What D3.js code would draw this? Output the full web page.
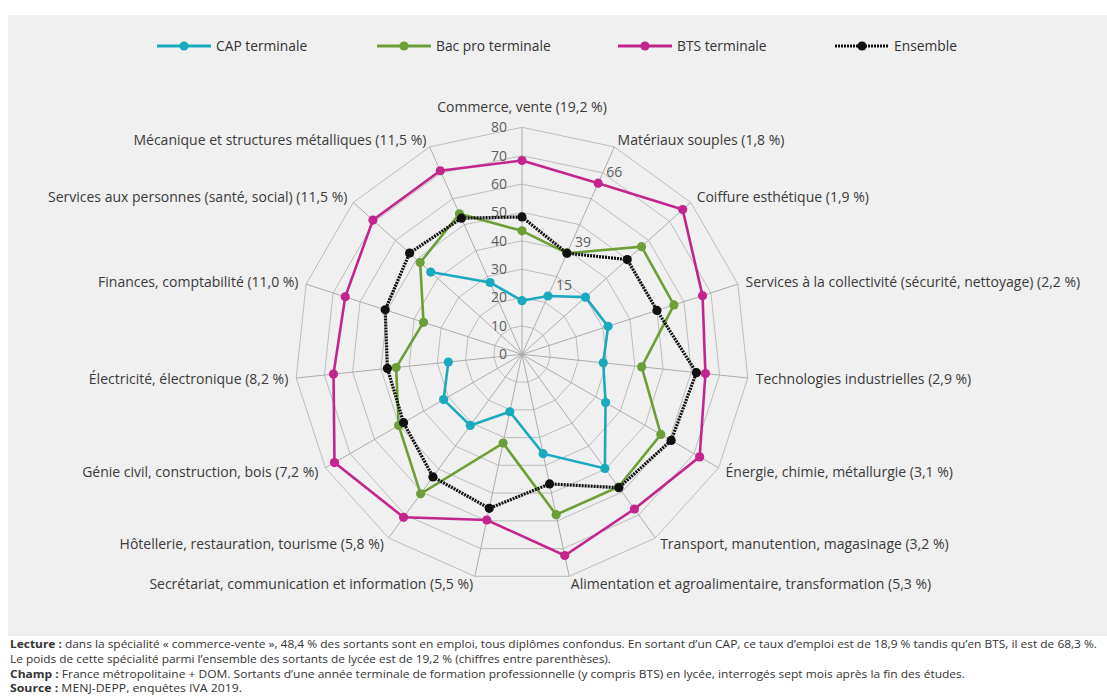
<!DOCTYPE html>
<html>
<head>
<meta charset="utf-8">
<script src="https://cdn.jsdelivr.net/npm/d3@7"></script>
<style>
  body { margin: 0; background: #fff; }
  svg { font-family: "Open Sans", "Noto Sans", sans-serif; }
</style>
</head>
<body>
<svg id="chart" width="1107" height="700"></svg>
<script>
// categories, clockwise from the top
var categories = [
  "Commerce, vente (19,2 %)",
  "Matériaux souples (1,8 %)",
  "Coiffure esthétique (1,9 %)",
  "Services à la collectivité (sécurité, nettoyage) (2,2 %)",
  "Technologies industrielles (2,9 %)",
  "Énergie, chimie, métallurgie (3,1 %)",
  "Transport, manutention, magasinage (3,2 %)",
  "Alimentation et agroalimentaire, transformation (5,3 %)",
  "Secrétariat, communication et information (5,5 %)",
  "Hôtellerie, restauration, tourisme (5,8 %)",
  "Génie civil, construction, bois (7,2 %)",
  "Électricité, électronique (8,2 %)",
  "Finances, comptabilité (11,0 %)",
  "Services aux personnes (santé, social) (11,5 %)",
  "Mécanique et structures métalliques (11,5 %)"
]

var cap      = [18.9, 22.5, 30.1, 31.9, 28.8, 34.0, 49.7, 35.8, 20.7, 31.0, 31.9, 26.1, null, 43.3, 27.7]
var bacPro   = [43.5, 39.0, 56.7, 56.3, 42.4, 56.5, 57.8, 57.8, 32.0, 60.8, 50.2, 44.6, 36.5, 48.3, 54.2]
var bts      = [68.3, 66.0, 76.2, 66.9, 65.0, 72.3, 67.4, 72.5, 59.7, 71.0, 76.3, 66.8, 65.5, 70.7, 70.8]
var ensemble = [48.4, 39.0, 49.9, 50.0, 61.8, 60.7, 58.1, 46.7, 55.5, 53.4, 48.2, 47.7, 50.7, 53.3, 52.5]

var seriesNames = ["CAP terminale", "Bac pro terminale", "BTS terminale", "Ensemble"]
var tickValues = [0, 10, 20, 30, 40, 50, 60, 70, 80]

// value labels written on the "Matériaux souples" spoke
var labelAxis = 1
var pointLabels = [["BTS terminale", "66"], ["Ensemble", "39"], ["CAP terminale", "15"]]

var notes = [
  [["Lecture : ", true], ["dans la spécialité « commerce-vente », 48,4 % des sortants sont en emploi, tous diplômes confondus. En sortant d’un CAP, ce taux d’emploi est de 18,9 % tandis qu’en BTS, il est de 68,3 %.", false]],
  [["Le poids de cette spécialité parmi l’ensemble des sortants de lycée est de 19,2 % (chiffres entre parenthèses).", false]],
  [["Champ : ", true], ["France métropolitaine + DOM. Sortants d’une année terminale de formation professionnelle (y compris BTS) en lycée, interrogés sept mois après la fin des études.", false]],
  [["Source : ", true], ["MENJ-DEPP, enquêtes IVA 2019.", false]]
]

var series = [
  { name: seriesNames[0], values: cap,      color: "#1aaabf" },
  { name: seriesNames[1], values: bacPro,   color: "#6e9e38" },
  { name: seriesNames[2], values: bts,      color: "#c3258c" },
  { name: seriesNames[3], values: ensemble, color: "#111111", dotted: true }
]

var svg = d3.select("#chart")
var width = 1107
var cx = 522, cy = 354.3
var R = 227
var n = categories.length

// grey panel
svg.append("rect")
  .attr("x", 8).attr("y", 15)
  .attr("width", width - 8).attr("height", 621)
  .attr("fill", "#f0f0f0")

var r = d3.scaleLinear().domain([0, 80]).range([0, R])
var angle = d3.scaleLinear().domain([0, n]).range([0, 2 * Math.PI])

function pt(i, v) {
  var a = angle(i)
  return [cx + r(v) * Math.sin(a), cy - r(v) * Math.cos(a)]
}

var grid = svg.append("g").attr("class", "grid")

// polygon rings
tickValues.slice(1).forEach(function (t) {
  var pts = d3.range(n).map(function (i) { return pt(i, t) })
  grid.append("polygon")
    .attr("points", pts.map(function (p) { return p.join(",") }).join(" "))
    .attr("fill", "none")
    .attr("stroke", "#bdbdbd")
    .attr("stroke-width", 1)
})

// spokes
grid.selectAll("line.spoke")
  .data(d3.range(n))
  .enter().append("line")
  .attr("class", "spoke")
  .attr("x1", cx).attr("y1", cy)
  .attr("x2", function (i) { return pt(i, 80)[0] })
  .attr("y2", function (i) { return pt(i, 80)[1] })
  .attr("stroke", "#adadad")
  .attr("stroke-width", 1)

// tick labels along the top spoke
svg.append("g").selectAll("text")
  .data(tickValues)
  .enter().append("text")
  .attr("x", cx - 15)
  .attr("y", function (d) { return cy - r(d) })
  .attr("dy", "0.35em")
  .attr("text-anchor", "end")
  .attr("font-size", 14)
  .attr("fill", "#5e5e5e")
  .text(function (d) { return d })

// category labels
svg.append("g").selectAll("text")
  .data(categories)
  .enter().append("text")
  .attr("x", function (d, i) { return cx + (R + 8) * Math.sin(angle(i)) })
  .attr("y", function (d, i) {
    var c = Math.cos(angle(i))
    return cy - (R + 8) * c - (c > 0.95 ? 12 : 0)
  })
  .attr("dy", "0.35em")
  .attr("text-anchor", function (d, i) {
    var s = Math.sin(angle(i))
    return s > 0.05 ? "start" : (s < -0.05 ? "end" : "middle")
  })
  .attr("font-size", 14)
  .attr("fill", "#3a3a3a")
  .text(function (d) { return d })

// series
var line = d3.line()
  .defined(function (d) { return d.v != null })
  .x(function (d) { return pt(d.i, d.v)[0] })
  .y(function (d) { return pt(d.i, d.v)[1] })

var plot = svg.append("g").attr("class", "series")
series.forEach(function (s) {
  var pts = s.values.map(function (v, i) { return { i: i, v: v } })
  var closed = pts.concat([{ i: n, v: s.values[0] }])
  var g = plot.append("g")
  g.append("path")
    .attr("d", line(closed))
    .attr("fill", "none")
    .attr("stroke", s.color)
    .attr("stroke-width", s.dotted ? 3.2 : 2.6)
    .attr("stroke-dasharray", s.dotted ? "2,1" : null)
  g.selectAll("circle")
    .data(pts.filter(function (d) { return d.v != null }))
    .enter().append("circle")
    .attr("cx", function (d) { return pt(d.i, d.v)[0] })
    .attr("cy", function (d) { return pt(d.i, d.v)[1] })
    .attr("r", 4.6)
    .attr("fill", s.color)
})

// value labels
svg.append("g").selectAll("text")
  .data(pointLabels)
  .enter().append("text")
  .attr("x", function (d) {
    var s = series.find(function (e) { return e.name == d[0] })
    return pt(labelAxis, s.values[labelAxis])[0] + 8
  })
  .attr("y", function (d) {
    var s = series.find(function (e) { return e.name == d[0] })
    return pt(labelAxis, s.values[labelAxis])[1] - 11
  })
  .attr("dy", "0.35em")
  .attr("font-size", 14)
  .attr("fill", "#5e5e5e")
  .text(function (d) { return d[1] })

// legend
var legendX = [157, 377, 618, 835]
var legend = svg.append("g").attr("class", "legend")
series.forEach(function (s, k) {
  var x0 = legendX[k]
  var g = legend.append("g").attr("transform", "translate(" + x0 + ",46)")
  g.append("line")
    .attr("x1", 0).attr("x2", 54)
    .attr("stroke", s.color)
    .attr("stroke-width", s.dotted ? 3.2 : 3)
    .attr("stroke-dasharray", s.dotted ? "2,1" : null)
  g.append("circle").attr("cx", 27).attr("r", 4.6).attr("fill", s.color)
  g.append("text")
    .attr("x", 59).attr("dy", "0.35em")
    .attr("font-size", 13.8)
    .attr("fill", "#333")
    .text(s.name)
})

// notes under the panel
var noteY = [648, 663, 678, 692]
var noteWidths = [1087, 601, 955, 232]
var notesG = svg.append("g").attr("class", "notes")
notes.forEach(function (parts, k) {
  var t = notesG.append("text")
    .attr("x", 10).attr("y", noteY[k])
    .attr("font-size", 10)
    .attr("fill", "#333")
    .attr("textLength", noteWidths[k])
    .attr("lengthAdjust", "spacingAndGlyphs")
  parts.forEach(function (p) {
    t.append("tspan")
      .attr("font-weight", p[1] ? "bold" : null)
      .text(p[0])
  })
})
</script>
</body>
</html>
